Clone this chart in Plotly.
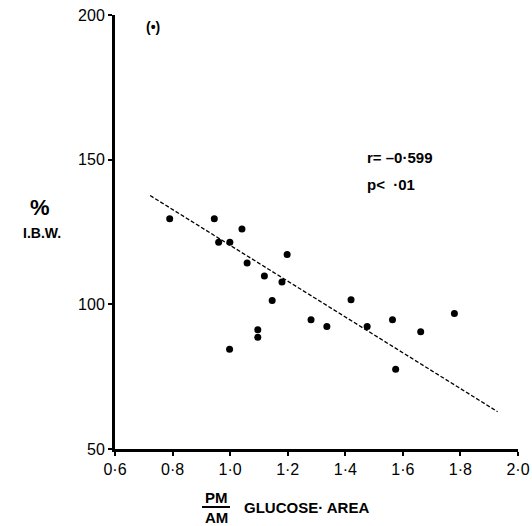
import plotly.graph_objects as go

# data
ratio = [0.790, 0.945, 0.960, 0.999, 1.041, 1.059, 0.998, 1.096, 1.096, 1.119,
         1.146, 1.180, 1.198, 1.281, 1.336, 1.420, 1.476, 1.564, 1.575, 1.662, 1.779]
ibw = [129.6, 129.6, 121.5, 121.5, 126.0, 114.3, 84.5, 91.2, 88.6, 109.8,
       101.3, 107.7, 117.2, 94.7, 92.3, 101.6, 92.3, 94.7, 77.6, 90.5, 96.8]
fit_x = [0.722, 1.929]
fit_y = [137.6, 62.9]

x_ticks = [0.6, 0.8, 1.0, 1.2, 1.4, 1.6, 1.8, 2.0]
x_ticktext = ["0·6", "0·8", "1·0", "1·2", "1·4", "1·6", "1·8", "2·0"]
y_ticks = [50, 100, 150, 200]

font_fam = "Liberation Sans, Arial, sans-serif"

# target plot area in page pixels
PL, PR, PT, PB = 115, 518, 15, 449

fig = go.Figure()
fig.add_trace(go.Scatter(x=fit_x, y=fit_y, mode="lines",
                         line=dict(color="black", width=1.3, dash="4px,2px"),
                         showlegend=False, hoverinfo="skip"))
fig.add_trace(go.Scatter(x=ratio, y=ibw, mode="markers",
                         marker=dict(color="black", size=7),
                         showlegend=False))

fig.update_layout(
    width=532, height=526,
    margin=dict(l=PL, r=532 - PR, t=PT, b=526 - PB),
    paper_bgcolor="white", plot_bgcolor="white",
    font=dict(family=font_fam, color="black", size=16),
    xaxis=dict(range=[0.6, 2.0], tickvals=x_ticks, ticktext=x_ticktext,
               showgrid=False, zeroline=False, showline=True, linecolor="black",
               linewidth=3, ticks="outside", ticklen=4, tickwidth=2,
               tickcolor="black", ticklabeloverflow="allow", automargin=False,
               tickfont=dict(size=16, family=font_fam)),
    yaxis=dict(range=[50, 200], tickvals=y_ticks,
               showgrid=False, zeroline=False, showline=True, linecolor="black",
               linewidth=3, ticks="outside", ticklen=4, tickwidth=2,
               tickcolor="black", ticklabeloverflow="allow", automargin=False,
               tickfont=dict(size=16, family=font_fam)),
)


def px2paper(x, y):
    return (x - PL) / (PR - PL), (PB - y) / (PB - PT)


ann = [
    dict(x=153, y=27, text="(•)", size=14, anchor="center"),
    dict(x=365, y=157, text="r= –0·599", size=15, anchor="left"),
    dict(x=365, y=184, text="p<  ·01", size=15, anchor="left"),
    dict(x=40, y=207, text="%", size=22, anchor="center"),
    dict(x=42, y=233, text="I.B.W.", size=14, anchor="center"),
    dict(x=216, y=497, text="PM", size=15, anchor="center"),
    dict(x=216, y=517, text="AM", size=15, anchor="center"),
    dict(x=242, y=507, text="GLUCOSE· AREA", size=15, anchor="left"),
]
for a in ann:
    xp, yp = px2paper(a["x"], a["y"])
    fig.add_annotation(x=xp, y=yp, xref="paper", yref="paper",
                       xanchor=a["anchor"], yanchor="middle", showarrow=False,
                       text="<b>" + a["text"] + "</b>",
                       font=dict(size=a["size"], family=font_fam, color="black"))
# fraction bar
x0, y0 = px2paper(202, 507)
x1, _ = px2paper(230, 507)
fig.add_shape(type="line", xref="paper", yref="paper",
              x0=x0, x1=x1, y0=y0, y1=y0,
              line=dict(color="black", width=2))

fig.write_html("out.html", config={"displayModeBar": False},
               post_script="document.body.style.margin='0';document.body.style.overflow='hidden';")
